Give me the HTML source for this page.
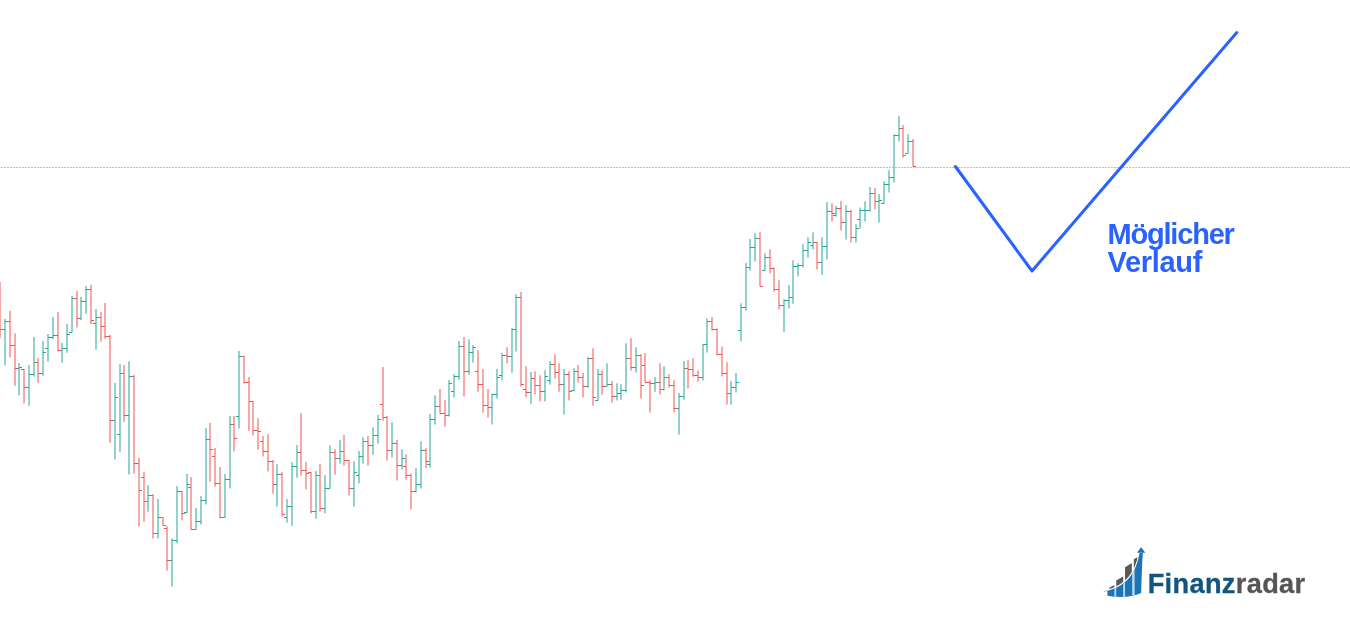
<!DOCTYPE html>
<html lang="de">
<head>
<meta charset="utf-8">
<title>Möglicher Verlauf – Finanzradar</title>
<style>
html,body{margin:0;padding:0;background:#fff;}
body{width:1350px;height:625px;overflow:hidden;position:relative;font-family:"Liberation Sans",sans-serif;}
svg{position:absolute;left:0;top:0;display:block}
.note{position:absolute;left:1107.5px;top:220px;width:140px;font:bold 29px/28px "Liberation Sans",sans-serif;color:#2962ff;white-space:nowrap}
.note span{display:block}
.note .l1{letter-spacing:-1.2px}
.note .l2{letter-spacing:-0.3px}
.brand{position:absolute;left:1147.7px;top:568.7px;font:bold 27.2px/30px "Liberation Sans",sans-serif;white-space:nowrap;letter-spacing:0.33px;-webkit-text-stroke:0.3px}
.brand b{color:#12557f}
.brand i{font-style:normal;color:#555557}
</style>
</head>
<body>
<svg width="1350" height="625" viewBox="0 0 1350 625">
<line x1="1" y1="167.5" x2="1350" y2="167.5" stroke="#ef5350" stroke-opacity=".5" stroke-width="1" stroke-dasharray="2 1"/>
<g>
<path fill="#26a69a" fill-opacity=".5" d="M4 318.9h2V365.6h-2zM18 363h2V395.6h-2zM28 365.1h2V405.7h-2zM33 336.9h2V376.6h-2zM42 340.9h2V375.8h-2zM47 334.1h2V361.6h-2zM52 317h2V339.1h-2zM61 342.9h2V362.8h-2zM66 324h2V352.7h-2zM71 296h2V332.4h-2zM80 297h2V319.9h-2zM85 286.1h2V313.8h-2zM95 309h2V349.8h-2zM114 383.1h2V459.6h-2zM119 363.9h2V451.7h-2zM128 361.2h2V474.5h-2zM147 485.2h2V511.8h-2zM157 499.1h2V538.5h-2zM171 538.3h2V586.5h-2zM176 486h2V543.3h-2zM186 474h2V512.9h-2zM195 507.9h2V529.7h-2zM200 495.9h2V524.6h-2zM205 428h2V504.6h-2zM224 474h2V517.7h-2zM229 416.1h2V488.6h-2zM238 351h2V428.6h-2zM276 464.2h2V506.5h-2zM286 499.1h2V522.8h-2zM291 462.3h2V525.7h-2zM296 445h2V477.7h-2zM315 471h2V518.7h-2zM324 475h2V513.6h-2zM329 445.2h2V488.6h-2zM339 440.1h2V463.5h-2zM353 461.2h2V506.7h-2zM358 451h2V483.5h-2zM362 437.2h2V463.5h-2zM372 427.2h2V454.7h-2zM377 415h2V443.6h-2zM391 422.2h2V457.6h-2zM401 449.2h2V469.6h-2zM415 468.1h2V492.3h-2zM420 441.2h2V488.6h-2zM429 413.9h2V467.5h-2zM434 395.2h2V424.5h-2zM448 380h2V416.5h-2zM453 374.2h2V397.6h-2zM458 341.1h2V379.7h-2zM468 339.2h2V374.6h-2zM472 345.1h2V362.6h-2zM491 393.4h2V424.5h-2zM496 369.1h2V398.6h-2zM501 353.1h2V380.5h-2zM511 328.1h2V372.8h-2zM515 294.2h2V351.6h-2zM530 372h2V403.7h-2zM544 370.2h2V401.6h-2zM549 361.1h2V384.5h-2zM563 369.1h2V414.6h-2zM573 368.3h2V391.4h-2zM587 357.1h2V387.7h-2zM597 369.1h2V400.8h-2zM606 363.2h2V386.6h-2zM616 383.2h2V400.5h-2zM620 384.3h2V399.7h-2zM625 343.3h2V392.5h-2zM635 347.3h2V372.6h-2zM654 377.1h2V391.7h-2zM663 366.2h2V390.6h-2zM678 393.1h2V434.6h-2zM683 361.1h2V399.7h-2zM702 344.2h2V380.6h-2zM706 318.2h2V352.6h-2zM730 381.1h2V404.5h-2zM735 373.1h2V392.5h-2zM740 303.2h2V341.6h-2zM745 263.1h2V310.6h-2zM749 238.9h2V270.6h-2zM754 233.3h2V261.5h-2zM764 253.2h2V270.6h-2zM783 299.2h2V331.7h-2zM788 285.1h2V308.5h-2zM792 260.3h2V303.7h-2zM797 263.2h2V276.5h-2zM802 244.2h2V267.6h-2zM807 237.3h2V257.4h-2zM812 232.2h2V249.5h-2zM821 237.3h2V275h-2zM826 202.1h2V259.5h-2zM835 206.1h2V216.4h-2zM845 205.3h2V239.6h-2zM855 224.2h2V242.6h-2zM859 207.4h2V228.4h-2zM864 201.2h2V221.5h-2zM869 187.1h2V211.6h-2zM878 194.3h2V222.6h-2zM883 181.2h2V203.6h-2zM888 170.2h2V192.6h-2zM893 134.2h2V182.5h-2zM898 115.8h2V141.6h-2zM907 134.2h2V153.6h-2z"/>
<path fill="#ef5350" fill-opacity=".5" d="M-1 282.1h2V338.3h-2zM9 310.9h2V357.5h-2zM14 333.3h2V385.7h-2zM23 369.1h2V403.6h-2zM37 358.1h2V382.8h-2zM57 312h2V351.6h-2zM76 290.9h2V327.6h-2zM90 284.8h2V323.9h-2zM100 312h2V341.8h-2zM104 303.1h2V338.8h-2zM109 334.9h2V442.8h-2zM123 365h2V421.7h-2zM133 375.1h2V473.7h-2zM138 458h2V526.5h-2zM143 471.9h2V521.7h-2zM152 494.3h2V538.5h-2zM162 517.2h2V525.7h-2zM166 526.3h2V570.5h-2zM181 491.1h2V520.6h-2zM190 477h2V529.7h-2zM209 423.1h2V481.7h-2zM214 447.9h2V486.8h-2zM219 467.1h2V518.5h-2zM233 416.1h2V451.6h-2zM243 355.8h2V383.5h-2zM248 376.9h2V430.7h-2zM252 400.9h2V435.5h-2zM257 418.2h2V449.7h-2zM262 436.1h2V456.6h-2zM267 434.2h2V471.6h-2zM272 459.9h2V493.7h-2zM281 471.9h2V516.6h-2zM300 412.9h2V475.8h-2zM305 462.1h2V489.6h-2zM310 472h2V513.6h-2zM319 464.1h2V511.5h-2zM334 449.2h2V474.7h-2zM343 434.9h2V465.6h-2zM348 460.1h2V495.5h-2zM367 436.1h2V465.6h-2zM382 367h2V420.8h-2zM386 416.1h2V460.6h-2zM396 440.1h2V480.6h-2zM405 454.2h2V479.5h-2zM410 473.4h2V509.6h-2zM425 448.1h2V468.3h-2zM439 389.1h2V413.6h-2zM444 400h2V426.6h-2zM463 337.1h2V396.5h-2zM477 350.2h2V391.7h-2zM482 369.1h2V412.8h-2zM487 389.1h2V417.8h-2zM506 347.2h2V363.6h-2zM520 292.1h2V386.6h-2zM525 366.2h2V397.6h-2zM534 371.2h2V394.6h-2zM539 375.2h2V401.6h-2zM554 354.2h2V378.6h-2zM558 363.2h2V391.7h-2zM568 371.2h2V400.5h-2zM577 365.1h2V382.6h-2zM582 373.1h2V397.6h-2zM592 348.3h2V405.6h-2zM601 370.2h2V394.6h-2zM611 381.1h2V402.7h-2zM630 338.2h2V370.6h-2zM640 354.2h2V398.6h-2zM644 353.1h2V382.6h-2zM649 380.2h2V412.5h-2zM659 363.2h2V394.6h-2zM668 374.2h2V387.4h-2zM673 380.2h2V412.5h-2zM687 360.2h2V388.5h-2zM692 358.2h2V376.7h-2zM697 370.2h2V381.6h-2zM711 317h2V330.5h-2zM716 328.3h2V355.4h-2zM721 346.4h2V376.5h-2zM726 362.2h2V404.5h-2zM759 232.2h2V286.6h-2zM769 249.3h2V273.6h-2zM773 267.2h2V291.7h-2zM778 280.3h2V309.6h-2zM816 242.1h2V269.6h-2zM831 203.2h2V221.5h-2zM840 201h2V230.6h-2zM850 210.1h2V242.6h-2zM874 188.1h2V209.5h-2zM902 124.9h2V157.6h-2zM912 139h2V166.7h-2z"/>
<path fill="#26a69a" d="M2 329h3v1h-3zM5 321h3v1h-3zM16 368h3v1h-3zM19 367h3v1h-3zM26 387h3v1h-3zM29 374h3v1h-3zM31 374h3v1h-3zM34 362h3v1h-3zM40 373h3v1h-3zM43 352h3v1h-3zM45 348h3v1h-3zM48 337h3v1h-3zM50 337h3v1h-3zM53 335h3v1h-3zM59 350h3v1h-3zM62 348h3v1h-3zM64 348h3v1h-3zM67 334h3v1h-3zM69 332h3v1h-3zM72 298h3v1h-3zM78 318h3v1h-3zM81 301h3v1h-3zM83 301h3v1h-3zM86 289h3v1h-3zM93 323h3v1h-3zM96 317h3v1h-3zM112 420h3v1h-3zM115 397h3v1h-3zM117 434h3v1h-3zM120 373h3v1h-3zM126 415h3v1h-3zM129 376h3v1h-3zM145 501h3v1h-3zM148 495h3v1h-3zM155 533h3v1h-3zM158 517h3v1h-3zM169 560h3v1h-3zM172 540h3v1h-3zM174 540h3v1h-3zM177 491h3v1h-3zM184 512h3v1h-3zM187 484h3v1h-3zM193 529h3v1h-3zM196 521h3v1h-3zM198 521h3v1h-3zM201 500h3v1h-3zM203 500h3v1h-3zM206 439h3v1h-3zM222 517h3v1h-3zM225 479h3v1h-3zM227 479h3v1h-3zM230 424h3v1h-3zM236 416h3v1h-3zM239 356h3v1h-3zM274 484h3v1h-3zM277 474h3v1h-3zM284 517h3v1h-3zM287 506h3v1h-3zM289 506h3v1h-3zM292 466h3v1h-3zM294 466h3v1h-3zM297 452h3v1h-3zM313 511h3v1h-3zM316 475h3v1h-3zM322 508h3v1h-3zM325 488h3v1h-3zM327 488h3v1h-3zM330 452h3v1h-3zM337 458h3v1h-3zM340 451h3v1h-3zM351 488h3v1h-3zM354 472h3v1h-3zM356 475h3v1h-3zM359 456h3v1h-3zM360 456h3v1h-3zM363 441h3v1h-3zM370 445h3v1h-3zM373 435h3v1h-3zM375 435h3v1h-3zM378 419h3v1h-3zM389 450h3v1h-3zM392 443h3v1h-3zM399 465h3v1h-3zM402 458h3v1h-3zM413 491h3v1h-3zM416 484h3v1h-3zM418 484h3v1h-3zM421 450h3v1h-3zM427 464h3v1h-3zM430 419h3v1h-3zM432 419h3v1h-3zM435 406h3v1h-3zM446 415h3v1h-3zM449 383h3v1h-3zM451 391h3v1h-3zM454 376h3v1h-3zM456 376h3v1h-3zM459 346h3v1h-3zM466 371h3v1h-3zM469 352h3v1h-3zM470 352h3v1h-3zM473 347h3v1h-3zM489 407h3v1h-3zM492 394h3v1h-3zM494 394h3v1h-3zM497 377h3v1h-3zM499 375h3v1h-3zM502 355h3v1h-3zM509 356h3v1h-3zM512 329h3v1h-3zM513 329h3v1h-3zM516 297h3v1h-3zM528 392h3v1h-3zM531 378h3v1h-3zM542 391h3v1h-3zM545 376h3v1h-3zM547 380h3v1h-3zM550 364h3v1h-3zM561 384h3v1h-3zM564 374h3v1h-3zM571 390h3v1h-3zM574 371h3v1h-3zM585 386h3v1h-3zM588 358h3v1h-3zM595 400h3v1h-3zM598 374h3v1h-3zM604 386h3v1h-3zM607 384h3v1h-3zM614 396h3v1h-3zM617 393h3v1h-3zM618 393h3v1h-3zM621 390h3v1h-3zM623 390h3v1h-3zM626 358h3v1h-3zM633 367h3v1h-3zM636 355h3v1h-3zM652 383h3v1h-3zM655 382h3v1h-3zM661 389h3v1h-3zM664 377h3v1h-3zM676 408h3v1h-3zM679 396h3v1h-3zM681 396h3v1h-3zM684 368h3v1h-3zM700 377h3v1h-3zM703 344h3v1h-3zM704 344h3v1h-3zM707 321h3v1h-3zM728 393h3v1h-3zM731 387h3v1h-3zM733 387h3v1h-3zM736 382h3v1h-3zM738 330h3v1h-3zM741 307h3v1h-3zM743 307h3v1h-3zM746 267h3v1h-3zM747 267h3v1h-3zM750 247h3v1h-3zM752 247h3v1h-3zM755 238h3v1h-3zM762 270h3v1h-3zM765 257h3v1h-3zM781 305h3v1h-3zM784 300h3v1h-3zM786 300h3v1h-3zM789 297h3v1h-3zM790 297h3v1h-3zM793 266h3v1h-3zM795 266h3v1h-3zM798 265h3v1h-3zM800 265h3v1h-3zM803 250h3v1h-3zM805 250h3v1h-3zM808 242h3v1h-3zM810 245h3v1h-3zM813 242h3v1h-3zM819 262h3v1h-3zM822 246h3v1h-3zM824 246h3v1h-3zM827 211h3v1h-3zM833 215h3v1h-3zM836 208h3v1h-3zM843 222h3v1h-3zM846 211h3v1h-3zM853 237h3v1h-3zM856 228h3v1h-3zM857 219h3v1h-3zM860 210h3v1h-3zM862 210h3v1h-3zM865 210h3v1h-3zM867 210h3v1h-3zM870 193h3v1h-3zM876 201h3v1h-3zM879 200h3v1h-3zM881 203h3v1h-3zM884 184h3v1h-3zM886 184h3v1h-3zM889 177h3v1h-3zM891 177h3v1h-3zM894 135h3v1h-3zM896 135h3v1h-3zM899 128h3v1h-3zM905 153h3v1h-3zM908 141h3v1h-3z"/>
<path fill="#ef5350" d="M-3 300h3v1h-3zM0 329h3v1h-3zM7 321h3v1h-3zM10 345h3v1h-3zM12 345h3v1h-3zM15 368h3v1h-3zM21 369h3v1h-3zM24 387h3v1h-3zM35 362h3v1h-3zM38 373h3v1h-3zM55 335h3v1h-3zM58 350h3v1h-3zM74 298h3v1h-3zM77 318h3v1h-3zM88 289h3v1h-3zM91 320h3v1h-3zM98 317h3v1h-3zM101 326h3v1h-3zM102 326h3v1h-3zM105 336h3v1h-3zM107 336h3v1h-3zM110 420h3v1h-3zM121 373h3v1h-3zM124 415h3v1h-3zM131 376h3v1h-3zM134 463h3v1h-3zM136 463h3v1h-3zM139 490h3v1h-3zM141 477h3v1h-3zM144 501h3v1h-3zM150 495h3v1h-3zM153 533h3v1h-3zM160 517h3v1h-3zM163 525h3v1h-3zM164 528h3v1h-3zM167 560h3v1h-3zM179 491h3v1h-3zM182 513h3v1h-3zM188 487h3v1h-3zM191 529h3v1h-3zM207 439h3v1h-3zM210 449h3v1h-3zM212 456h3v1h-3zM215 483h3v1h-3zM217 483h3v1h-3zM220 517h3v1h-3zM231 424h3v1h-3zM234 438h3v1h-3zM241 356h3v1h-3zM244 382h3v1h-3zM246 382h3v1h-3zM249 401h3v1h-3zM250 401h3v1h-3zM253 430h3v1h-3zM255 430h3v1h-3zM258 431h3v1h-3zM260 441h3v1h-3zM263 451h3v1h-3zM265 451h3v1h-3zM268 461h3v1h-3zM270 461h3v1h-3zM273 484h3v1h-3zM279 474h3v1h-3zM282 514h3v1h-3zM298 452h3v1h-3zM301 470h3v1h-3zM303 470h3v1h-3zM306 473h3v1h-3zM308 472h3v1h-3zM311 511h3v1h-3zM317 475h3v1h-3zM320 508h3v1h-3zM332 452h3v1h-3zM335 458h3v1h-3zM341 451h3v1h-3zM344 460h3v1h-3zM346 460h3v1h-3zM349 488h3v1h-3zM365 441h3v1h-3zM368 445h3v1h-3zM380 404h3v1h-3zM383 417h3v1h-3zM384 417h3v1h-3zM387 450h3v1h-3zM394 443h3v1h-3zM397 465h3v1h-3zM403 466h3v1h-3zM406 475h3v1h-3zM408 475h3v1h-3zM411 491h3v1h-3zM423 450h3v1h-3zM426 461h3v1h-3zM437 406h3v1h-3zM440 413h3v1h-3zM442 413h3v1h-3zM445 415h3v1h-3zM461 346h3v1h-3zM464 371h3v1h-3zM475 371h3v1h-3zM478 384h3v1h-3zM480 384h3v1h-3zM483 405h3v1h-3zM485 405h3v1h-3zM488 407h3v1h-3zM504 355h3v1h-3zM507 356h3v1h-3zM518 297h3v1h-3zM521 384h3v1h-3zM523 389h3v1h-3zM526 392h3v1h-3zM532 378h3v1h-3zM535 385h3v1h-3zM537 385h3v1h-3zM540 391h3v1h-3zM552 364h3v1h-3zM555 372h3v1h-3zM556 372h3v1h-3zM559 384h3v1h-3zM566 374h3v1h-3zM569 391h3v1h-3zM575 371h3v1h-3zM578 377h3v1h-3zM580 377h3v1h-3zM583 386h3v1h-3zM590 358h3v1h-3zM593 397h3v1h-3zM599 374h3v1h-3zM602 386h3v1h-3zM609 384h3v1h-3zM612 396h3v1h-3zM628 358h3v1h-3zM631 367h3v1h-3zM638 355h3v1h-3zM641 385h3v1h-3zM642 365h3v1h-3zM645 382h3v1h-3zM647 382h3v1h-3zM650 383h3v1h-3zM657 382h3v1h-3zM660 389h3v1h-3zM666 377h3v1h-3zM669 385h3v1h-3zM671 385h3v1h-3zM674 408h3v1h-3zM685 368h3v1h-3zM688 369h3v1h-3zM690 369h3v1h-3zM693 375h3v1h-3zM695 375h3v1h-3zM698 377h3v1h-3zM709 321h3v1h-3zM712 329h3v1h-3zM714 329h3v1h-3zM717 354h3v1h-3zM719 354h3v1h-3zM722 373h3v1h-3zM724 373h3v1h-3zM727 393h3v1h-3zM757 238h3v1h-3zM760 286h3v1h-3zM767 257h3v1h-3zM770 268h3v1h-3zM771 268h3v1h-3zM774 289h3v1h-3zM776 289h3v1h-3zM779 305h3v1h-3zM814 242h3v1h-3zM817 262h3v1h-3zM829 211h3v1h-3zM832 213h3v1h-3zM838 208h3v1h-3zM841 222h3v1h-3zM848 211h3v1h-3zM851 237h3v1h-3zM872 193h3v1h-3zM875 201h3v1h-3zM900 128h3v1h-3zM903 155h3v1h-3zM910 141h3v1h-3zM913 166h3v1h-3z"/>
</g>
<polyline points="955.4,166.5 1032,271 1236.8,32.6" fill="none" stroke="#2962ff" stroke-width="3" stroke-linecap="round" stroke-linejoin="round"/>
<g transform="translate(1100,543) scale(0.09276)">
<defs><clipPath id="bc"><path d="M80,515 C230,480 380,380 425,110 L462,105 Q449,300 444,538 Q290,606 80,568 Z"/></clipPath></defs>
<g fill="#58595b">
<path d="M100,482 155,452 155,520 100,520Z"/>
<path d="M175,405 250,360 250,480 175,500Z"/>
<path d="M270,262 343,215 343,400 270,440Z"/>
<path d="M365,175 405,150 405,260 365,300Z"/>
</g>
<path d="M40,516 Q60,514 80,508 C230,473 380,373 425,103" fill="none" stroke="#fff" stroke-width="16"/>
<path d="M80,515 C230,480 380,380 425,110 L462,105 Q449,300 444,538 Q290,606 80,568 Z" fill="#1a74b6"/>
<g clip-path="url(#bc)" fill="#b9dbf1">
<rect x="155" y="100" width="20" height="520"/>
<rect x="250" y="100" width="20" height="520"/>
<rect x="347" y="100" width="26" height="520"/>
</g>
<path d="M40,522 Q60,520 82,514" fill="none" stroke="#1a74b6" stroke-width="5"/>
<path d="M398,105 443,45 489,105Z" fill="#1a74b6"/>
</g>
</svg>
<div class="note"><span class="l1">Möglicher</span><span class="l2">Verlauf</span></div>
<div class="brand"><b>Finanz</b><i>radar</i></div>
</body>
</html>
